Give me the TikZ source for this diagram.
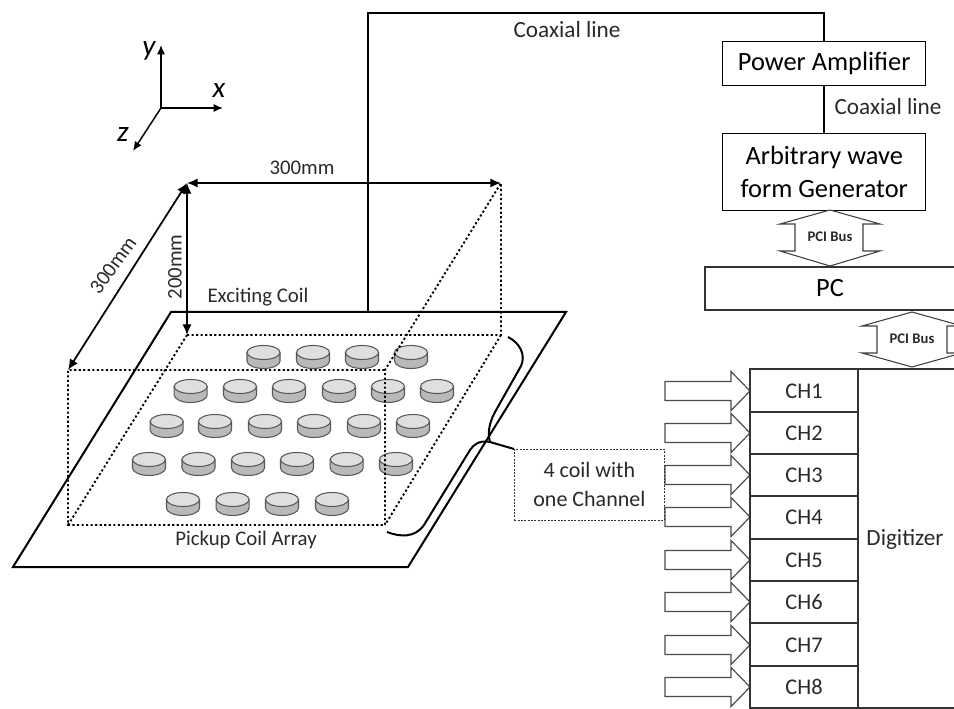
\documentclass[tikz,border=0pt]{standalone}
\usepackage{fontspec}
\setmainfont{Carlito}
\usetikzlibrary{arrows.meta}
\definecolor{txt}{HTML}{2A2A2A}
\tikzset{
 lbl/.style={inner sep=0pt,text=txt,font=\fontsize{17.4}{21}\selectfont},
 lblmid/.style={inner sep=0pt,text=txt,font=\fontsize{15.6}{19}\selectfont},
 lblbig/.style={inner sep=0pt,text=black,font=\fontsize{19.8}{24.8}\selectfont,align=center},
 pci/.style={inner sep=0pt,text=txt,font=\bfseries\fontsize{11}{13}\selectfont},
 ch/.style={inner sep=0pt,text=txt,font=\fontsize{16.8}{20}\selectfont},
 axl/.style={inner sep=0pt,font=\itshape\fontsize{22}{26}\selectfont},
 line/.style={draw=black,line width=1.5pt},
 thinbox/.style={draw=black!80,line width=0.9pt},
 dimarrow/.style={line width=1.3pt,{Latex[length=8pt,width=7pt]}-{Latex[length=8pt,width=7pt]}},
 axarrow/.style={line width=1.1pt,-{Latex[length=7pt,width=6pt]}},
 dots/.style={line width=1.4pt,dash pattern=on 1.6pt off 1.8pt},
 hex/.style={draw=black!75,line width=0.8pt,fill=white},
 chevarrow/.style={draw=black!70,line width=0.9pt,fill=white},
}
\newcommand{\coil}[2]{%
 \begin{scope}[shift={(#1,#2)}]
  \draw[black!65,fill=gray!55,line width=0.8pt] (-16.5,7.5) -- (-16.5,16) arc[start angle=180,end angle=0,x radius=16.5,y radius=7.5] -- (16.5,7.5) -- cycle;
  \draw[black!65,fill=gray!25,line width=0.8pt] (0,7.5) ellipse[x radius=16.5,y radius=7];
 \end{scope}}
\newcommand{\charrow}[1]{%
 \draw[chevarrow] (665,#1-9.5) -- (731,#1-9.5) -- (731,#1-19.5) -- (750,#1) -- (731,#1+19.5) -- (731,#1+9.5) -- (665,#1+9.5) -- cycle;}
\begin{document}
\begin{tikzpicture}[x=0.75pt,y=-0.75pt]
\useasboundingbox (0,0) rectangle (954,709);
\fill[white] (0,0) rectangle (954,709);
% plate
\draw[line,line join=miter] (171,312) -- (566,312) -- (408,567) -- (13,567) -- cycle;
% coils
\foreach \x in {263.5,313,362,411} {\coil{\x}{345}}
\foreach \x in {190.7,240,289,339,388,437} {\coil{\x}{379}}
\foreach \x in {166.7,215,265,314,364,413} {\coil{\x}{414}}
\foreach \x in {149,198.5,248,297,346.7,396} {\coil{\x}{452}}
\foreach \x in {183,232.6,282,332} {\coil{\x}{492}}
% dotted box
\coordinate (bt1) at (187,183); \coordinate (bt2) at (501,183);
\coordinate (bb1) at (187,335); \coordinate (bb2) at (501,335);
\coordinate (ft1) at (68,370);  \coordinate (ft2) at (385,370);
\coordinate (fb1) at (68,525);  \coordinate (fb2) at (385,525);
\draw[dots] (bb1) -- (bb2) -- (bt2) -- (ft2) -- (fb2) -- (fb1) -- (ft1) -- (ft2);
\draw[dots] (bb1) -- (fb1);
\draw[dots] (bb2) -- (fb2);
% dimensions
\draw[dimarrow] (bt1) -- (bt2);
\draw[dimarrow] (bt1) -- (ft1);
\draw[dimarrow] (bt1) -- (bb1);
\node[lblmid] (d1) at (302,168) {300mm};
\node[lblmid,rotate=54] (d2) at (113,265) {300mm};
\node[lblmid,rotate=90] (d3) at (175,267) {200mm};
% axes
\coordinate (o) at (161,108); \coordinate (ay) at (161,45); \coordinate (ax) at (223,108); \coordinate (az) at (133,151);
\draw[axarrow] (o) -- (ay);
\draw[axarrow] (o) -- (ax);
\draw[axarrow] (o) -- (az);
\node[axl] (ly) at (149,51) {y};
\node[axl] (lx) at (219,90) {x};
\node[axl] (lz) at (123,134) {z};
% labels
\node[lblmid] (ec) at (258,297) {Exciting Coil};
\node[lblmid] (pa) at (246,540) {Pickup Coil Array};
% boxes
\node[line width=1.1pt,draw=black,minimum width=152.25pt,minimum height=33pt,lblbig,anchor=north west] (amp) at (722,41) {Power Amplifier};
\node[line width=1.1pt,draw=black,minimum width=152.25pt,minimum height=57.75pt,lblbig,anchor=north west] (awg) at (722,133) {Arbitrary wave\\form Generator};
\draw[line] (368,312) -- (368,13) -| (amp.north);
\draw[line] (amp.south) -- (awg.north);
\node[lbl] (c1) at (567,30) {Coaxial line};
\node[lbl] (c2) at (888,107) {Coaxial line};
% PC
\draw[thinbox] (954,267) -- (705,267) -- (705,310) -- (954,310);
\node[lblbig] (pc) at (830,288) {PC};
% hexes
\draw[hex] (830,210) -- (880,224) -- (863,224) -- (863,251) -- (880,251) -- (830,266) -- (780,251) -- (795,251) -- (795,224) -- (780,224) -- cycle;
\node[pci] (p1) at (830,237) {PCI Bus};
\draw[hex] (912,312) -- (962,326) -- (947,326) -- (947,353) -- (962,353) -- (912,367) -- (862,353) -- (877,353) -- (877,326) -- (862,326) -- cycle;
\node[pci] (p2) at (912,339) {PCI Bus};
% arrows
\foreach \y in {391,433,475,517,560,602,645,687} {\charrow{\y}}
% channels
\draw[thinbox] (954,369) -- (750,369) -- (750,709);
\draw[thinbox] (858,369) -- (858,709);
\foreach \i/\y in {1/412,2/454,3/496,4/539,5/581,6/623,7/666,8/708} {\draw[thinbox] (750,\y) -- (858,\y);}
\draw[thinbox] (858,708) -- (954,708);
\foreach \i/\y in {1/391,2/433,3/475,4/517,5/560,6/602,7/645,8/687} {\node[ch] (ch\i) at (804,\y) {CH\i};}
\node[lbl] (dig) at (905,539) {Digitizer};
% brace
\node[draw=black!80,line width=0.6pt,dash pattern=on 1.5pt off 1pt,minimum width=112.5pt,minimum height=53pt,anchor=north west,lbl,align=center,font=\fontsize{16.5}{22}\selectfont] (nb) at (514,449) {4 coil with\\one Channel};
\coordinate (b0) at (508,337); \coordinate (b1) at (387,532); \coordinate (tip) at (490,442);
\draw[line width=1.5pt,black] (b0) .. controls (520,343) and (526,355) .. (521,366) -- (495,412) .. controls (488,425) and (488,435) .. (tip);
\draw[line width=1.5pt,black] (tip) .. controls (480,440) and (474,444) .. (470,450) -- (424,525) .. controls (415,538) and (400,537) .. (b1);
\draw[line width=1.5pt,black] (tip) -- (nb.north west);
\end{tikzpicture}
\end{document}
